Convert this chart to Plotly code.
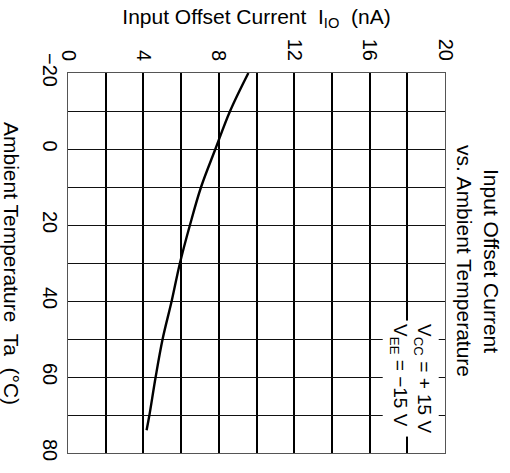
import plotly.graph_objects as go

# Data (rotated datasheet chart)
temperature_c = [-20, -10, 0, 10, 20, 30, 40, 50, 60, 70, 74]
offset_current_na = [9.57, 8.6, 7.82, 7.06, 6.47, 5.94, 5.5, 5.02, 4.65, 4.32, 4.17]

# grid positions and their labels ("" = unlabeled grid line)
x_grid_vals = [0, 2, 4, 6, 8, 10, 12, 14, 16, 18, 20]
x_grid_text = ["0", "", "4", "", "8", "", "12", "", "16", "", "20"]
y_grid_vals = [-20, -10, 0, 10, 20, 30, 40, 50, 60, 70, 80]
y_grid_text = ["\u221220", "", "0", "", "20", "", "40", "", "60", "", "80"]

FONT = "Liberation Sans, Arial, Helvetica, sans-serif"

fig = go.Figure()
fig.add_trace(go.Scatter(
    x=offset_current_na, y=temperature_c, mode="lines",
    line=dict(color="black", width=2.4, shape="spline"),
    showlegend=False, hoverinfo="skip",
))

fig.update_layout(
    width=510, height=473,
    margin=dict(l=68, r=65, t=73, b=15),
    paper_bgcolor="white", plot_bgcolor="white",
    font=dict(family=FONT, color="black", size=19),
    xaxis=dict(
        range=[0, 20], side="top", tickmode="array",
        tickvals=x_grid_vals, ticktext=x_grid_text,
        tickangle=90, ticks="", ticklabelstandoff=4,
        showgrid=True, gridcolor="black", gridwidth=2,
        zeroline=False, showline=True, mirror=True, linecolor="#555", linewidth=1,
        tickfont=dict(size=20),
        title=dict(text="Input Offset Current  I<sub>IO</sub>  (nA)",
                   font=dict(size=21), standoff=8),
    ),
    yaxis=dict(
        range=[80, -20], tickmode="array",
        tickvals=y_grid_vals, ticktext=y_grid_text,
        tickangle=90, ticks="",
        showgrid=True, gridcolor="#111", gridwidth=1.4,
        zeroline=False, showline=True, mirror=True, linecolor="#555", linewidth=1,
        tickfont=dict(size=20),
    ),
    annotations=[
        dict(text="Ambient Temperature  Ta  (°C)", textangle=90,
             xref="paper", yref="paper", x=-0.1485, y=0.5,
             xanchor="center", yanchor="middle", showarrow=False,
             font=dict(size=21)),
        dict(text="Input Offset Current<br>vs. Ambient Temperature", textangle=90,
             xref="paper", yref="paper", x=1.0875, y=0.505,
             xanchor="center", yanchor="middle", showarrow=False,
             font=dict(size=21)),
        dict(text="V<sub>CC</sub> = + 15 V<br>V<sub>EE</sub> = \u221215 V", textangle=90,
             xref="x", yref="y", x=18.2, y=60.3,
             xanchor="center", yanchor="middle", showarrow=False,
             bgcolor="white", borderpad=3, align="left",
             font=dict(size=19)),
    ],
)

fig.write_html("out.html")
